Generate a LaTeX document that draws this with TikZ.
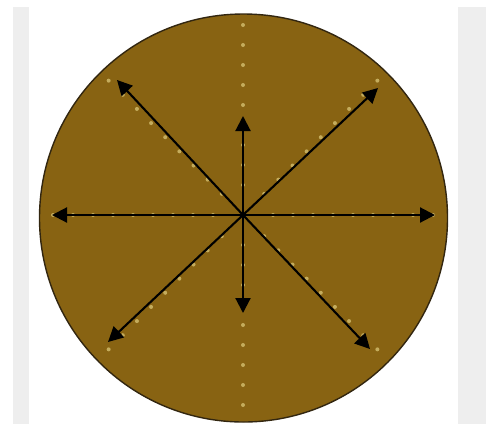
\documentclass[tikz,border=0pt]{standalone}
\usetikzlibrary{arrows.meta}
\definecolor{discbrown}{RGB}{136,99,18}
\definecolor{rimdark}{RGB}{50,38,16}
\definecolor{studyellow}{RGB}{196,172,92}
\definecolor{panelgray}{RGB}{238,238,238}
\tikzset{
  ray/.style={
    -{Triangle[length=15pt,width=15pt]},
    line width=2.1pt
  },
  stud/.style={
    fill=studyellow,
    draw=none
  },
  panel/.style={
    fill=panelgray,
    draw=none
  }
}
\begin{document}
\begin{tikzpicture}[x=1pt,y=-1pt]
  \useasboundingbox (0,0) rectangle (486,424);
  % side panels
  \path[panel] (13,7) rectangle (29,424);
  \path[panel] (458,7) rectangle (486,424);
  % disc
  \filldraw[fill=discbrown, draw=rimdark, line width=1.4pt] (243.5,218) circle (204pt);
  \coordinate (c) at (243,215);
  \foreach \a in {0,45,...,315}
    \foreach \r in {30,50,...,190}
      \path[stud] (c) ++(\a:\r) circle (2pt);
  % arrow tips
  \coordinate (n) at (243,116);
  \coordinate (s) at (243,313);
  \coordinate (e) at (435,215);
  \coordinate (w) at (52,215);
  \coordinate (nw) at (117,80);
  \coordinate (ne) at (378,88);
  \coordinate (sw) at (108,342);
  \coordinate (se) at (370,349);
  \foreach \t in {n,s,e,w,nw,ne,sw,se}
    \draw[ray] (c) -- (\t);
\end{tikzpicture}
\end{document}
